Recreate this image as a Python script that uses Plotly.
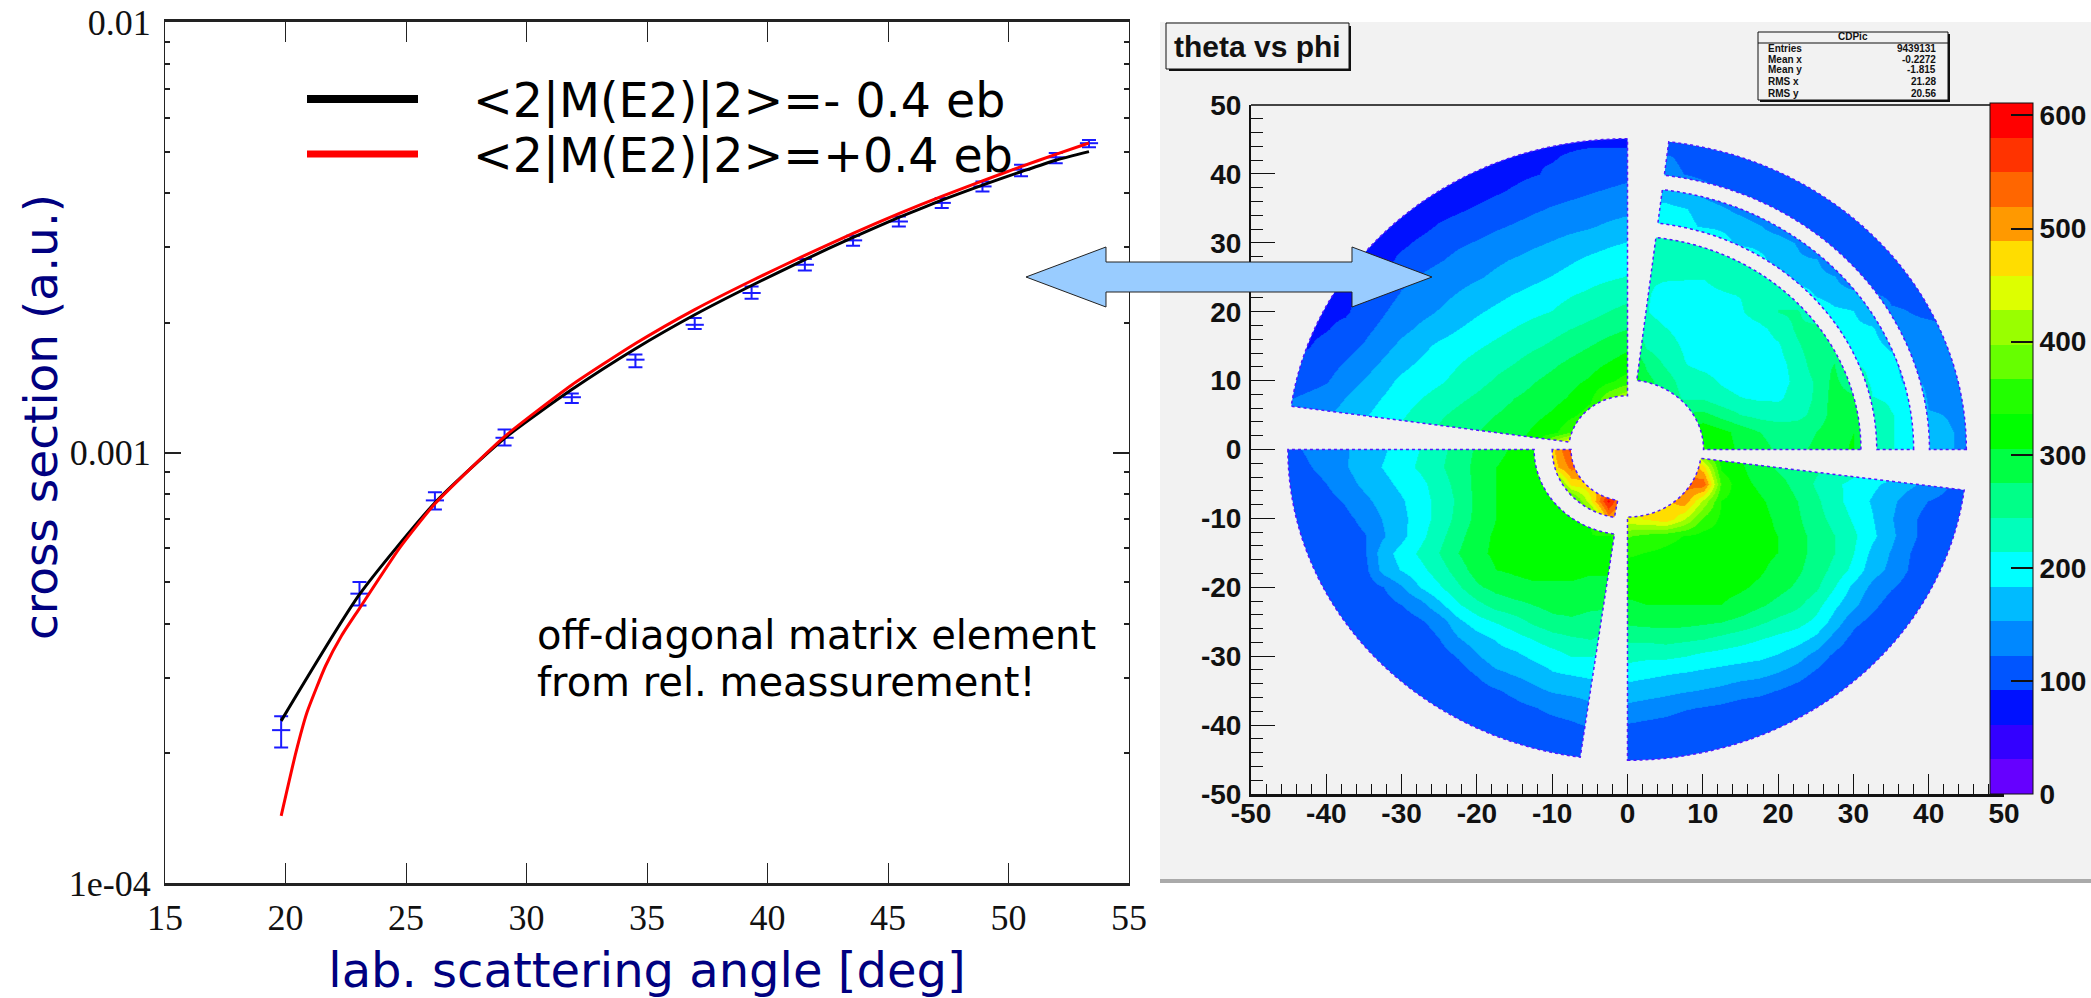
import numpy as np
import plotly.graph_objects as go

W, H = 2091, 998

# ---------- left panel data ----------
point_angle = [19.82, 23.07, 26.2, 29.09, 31.88, 34.52, 36.98, 39.34, 41.55, 43.55, 45.45, 47.23, 48.92, 50.52, 51.96, 53.34]
point_value = [2.265e-4, 4.70e-4, 7.74e-4, 1.082e-3, 1.344e-3, 1.643e-3, 1.98e-3, 2.347e-3, 2.73e-3, 3.11e-3, 3.44e-3, 3.8e-3, 4.15e-3, 4.54e-3, 4.85e-3, 5.23e-3]
point_upper = [2.44e-4, 5.0e-4, 8.09e-4, 1.131e-3, 1.371e-3, 1.688e-3, 2.054e-3, 2.431e-3, 2.815e-3, 3.189e-3, 3.535e-3, 3.9e-3, 4.26e-3, 4.66e-3, 4.96e-3, 5.32e-3]
point_lower = [2.065e-4, 4.41e-4, 7.37e-4, 1.038e-3, 1.303e-3, 1.577e-3, 1.936e-3, 2.277e-3, 2.648e-3, 3.02e-3, 3.35e-3, 3.7e-3, 4.04e-3, 4.38e-3, 4.70e-3, 5.12e-3]

black_angle = [19.82, 23.07, 26.2, 29.09, 31.88, 34.52, 36.98, 39.34, 41.55, 43.55, 45.45, 47.23, 48.92, 50.52, 51.96, 53.34]
black_value = [2.38e-4, 4.68e-4, 7.64e-4, 1.079e-3, 1.40e-3, 1.742e-3, 2.089e-3, 2.443e-3, 2.805e-3, 3.162e-3, 3.516e-3, 3.855e-3, 4.18e-3, 4.49e-3, 4.775e-3, 5.0e-3]

red_angle = [19.82, 20.43, 20.89, 21.66, 22.33, 23.07, 24.73, 26.2, 29.09, 31.88, 34.52, 36.98, 39.34, 41.55, 43.55, 45.45, 47.23, 48.92, 50.52, 51.96, 53.34]
red_value = [1.432e-4, 2.009e-4, 2.489e-4, 3.192e-4, 3.758e-4, 4.345e-4, 5.998e-4, 7.603e-4, 1.089e-3, 1.435e-3, 1.791e-3, 2.148e-3, 2.506e-3, 2.871e-3, 3.228e-3, 3.589e-3, 3.936e-3, 4.276e-3, 4.613e-3, 4.926e-3, 5.236e-3]

legend_black = "<2|M(E2)|2>=- 0.4 eb"
legend_red = "<2|M(E2)|2>=+0.4 eb"
legend_gap = "\u00a0\u00a0\u00a0\u200a"
note_lines = ["off-diagonal matrix element", "from rel. meassurement!"]
angle_ticks = [15, 20, 25, 30, 35, 40, 45, 50, 55]
cross_ticks = [1e-2, 1e-3, 1e-4]
cross_tick_text = ["0.01", "0.001", "1e-04"]

# ---------- right panel data (counts, 2.5 degree cells) ----------
hist_x = [-45, -42.5, -40, -37.5, -35, -32.5, -30, -27.5, -25, -22.5, -20, -17.5, -15, -12.5, -10, -7.5, -5, -2.5, 0,
          2.5, 5, 7.5, 10, 12.5, 15, 17.5, 20, 22.5, 25, 27.5, 30, 32.5, 35, 37.5, 40, 42.5, 45]
hist_y = [45, 42.5, 40, 37.5, 35, 32.5, 30, 27.5, 25, 22.5, 20, 17.5, 15, 12.5, 10, 7.5, 5, 2.5, 0,
          -2.5, -5, -7.5, -10, -12.5, -15, -17.5, -20, -22.5, -25, -27.5, -30, -32.5, -35, -37.5, -40, -42.5, -45]
hist_counts = [
 [75,75,75,75,75,75,75,75,75,75,75,78,82,85,85,85,85,85,85, 110,110,105,105,105,100,100,95,95,95,95,95,95,95,95,95,95,95],
 [75,75,75,75,75,75,75,75,75,75,78,82,85,90,90,95,100,100,100, 125,125,118,110,105,100,100,95,95,95,95,95,95,95,95,95,95,95],
 [75,75,75,75,75,75,75,75,75,75,78,82,85,90,95,100,105,110,115, 130,130,122,112,108,105,100,95,95,95,95,95,95,95,95,95,95,95],
 [75,75,75,75,75,75,75,75,75,78,82,88,95,103,110,115,120,125,130, 170,172,160,140,120,110,105,102,100,95,95,95,95,95,95,95,95,95],
 [75,75,75,75,75,75,75,75,80,88,95,103,110,118,125,130,135,140,145, 190,190,185,175,160,140,118,110,105,102,100,100,100,100,100,100,100,100],
 [75,75,75,75,75,75,75,82,95,103,110,118,125,133,140,145,150,158,165, 205,200,190,180,178,175,155,135,118,110,105,105,105,105,105,105,105,105],
 [78,78,78,78,78,78,85,98,110,118,125,133,140,148,155,163,170,178,185, 235,235,230,220,195,175,172,170,150,118,110,112,108,108,108,108,108,108],
 [78,78,78,78,78,80,100,110,120,130,140,148,155,163,170,180,190,198,205, 225,225,230,235,235,230,195,165,160,155,122,112,110,108,108,108,108,108],
 [78,78,78,78,80,98,115,125,135,143,150,158,165,175,185,195,205,210,215, 215,215,215,215,225,235,220,200,165,165,155,122,115,112,108,108,108,108],
 [78,78,78,85,95,110,125,135,145,155,165,175,185,195,205,213,220,228,235, 215,210,208,205,210,215,230,240,210,180,170,165,125,118,118,110,110,110],
 [78,80,85,88,105,120,135,145,155,168,180,190,200,208,215,225,235,245,255, 215,205,200,195,200,210,230,245,250,210,190,185,150,125,122,118,115,112],
 [80,85,90,100,115,130,145,158,170,183,195,205,215,225,235,245,255,265,275, 225,215,205,195,195,195,205,225,250,260,220,195,190,140,128,128,125,120],
 [85,90,100,112,125,143,160,175,190,200,210,220,230,240,250,263,275,288,300, 240,225,210,200,195,195,200,210,240,265,245,200,200,175,132,132,128,125],
 [95,100,110,125,140,158,175,188,200,213,225,235,245,258,270,283,295,308,320, 270,240,215,205,200,195,195,205,225,265,275,215,205,200,145,138,138,130],
 [105,112,120,138,155,173,190,200,210,223,235,248,260,273,285,298,310,330,350, 285,260,230,225,210,200,200,205,220,250,285,245,205,205,165,142,142,135],
 [120,128,135,153,170,185,200,213,225,238,250,263,275,285,295,310,330,390,430, 280,265,240,240,225,215,210,210,225,250,290,285,215,210,195,148,148,140],
 [130,140,150,165,180,195,210,225,240,253,265,275,285,298,310,330,350,380,400, 280,270,280,285,265,245,235,230,235,255,290,300,230,215,205,155,152,145],
 [130,145,160,175,190,205,220,235,250,263,275,285,295,310,325,365,370,380,390, 290,300,310,330,315,295,275,265,265,275,295,305,225,215,205,160,155,148],
 [115,125,135,150,165,180,195,215,235,258,280,298,310,315,480,560,520,500,480, 500,520,530,340,320,300,285,270,270,280,295,310,225,215,205,165,155,148],
 [110,120,130,150,170,185,200,220,240,260,285,305,315,315,470,530,520,500,490, 500,520,530,470,330,310,290,270,260,250,240,230,220,210,205,190,170,150],
 [105,112,122,140,160,175,190,205,230,255,285,305,320,325,330,470,480,490,500, 500,520,530,540,360,315,300,285,265,240,220,205,190,175,160,140,125,120],
 [100,105,112,125,145,165,180,200,225,250,285,305,320,325,325,330,450,590,460, 470,480,510,420,335,325,310,295,275,250,225,200,180,160,135,122,115,110],
 [98,102,108,115,130,155,175,200,225,255,285,305,320,325,330,330,330,500,450, 460,480,430,360,330,325,315,300,280,255,235,210,185,155,128,112,108,105],
 [95,98,105,110,120,150,175,205,235,265,295,310,320,325,330,330,335,330,370, 355,345,335,325,325,320,315,305,285,265,245,220,190,160,128,112,105,100],
 [95,95,100,105,118,170,195,220,245,275,300,310,320,325,325,325,325,325,340, 335,330,325,325,325,320,315,305,285,265,245,215,175,150,122,108,100,98],
 [95,95,95,100,112,165,185,205,230,260,290,305,310,315,315,315,310,310,325, 325,325,325,325,320,315,310,295,280,260,235,205,165,145,118,105,98,95],
 [95,95,95,98,105,122,150,185,210,240,270,285,295,300,300,300,295,295,315, 320,320,320,315,315,310,300,285,270,250,215,175,145,125,108,98,95,95],
 [95,95,95,95,98,108,122,140,175,210,235,255,265,275,285,285,280,280,300, 305,305,305,305,305,295,280,265,250,225,190,160,130,108,98,95,95,95],
 [95,95,95,95,95,98,105,118,135,175,200,215,230,250,265,270,265,260,280, 285,285,285,280,275,265,250,235,225,205,170,130,112,98,95,95,95,95],
 [95,95,95,95,95,95,98,105,122,150,170,185,200,215,230,240,245,235,250, 250,255,250,245,235,225,215,205,195,175,140,112,98,95,95,95,95,95],
 [95,95,95,95,95,95,95,98,108,125,150,170,175,190,200,215,215,205,225, 220,220,215,205,200,195,190,180,165,140,115,100,95,95,95,95,95,95],
 [95,95,95,95,95,95,95,95,98,108,125,145,155,165,180,185,190,185,195, 190,185,180,175,170,165,160,150,135,115,100,95,95,95,95,95,95,95],
 [95,95,95,95,95,95,95,95,95,98,108,118,130,145,155,160,165,165,170, 165,160,155,150,145,135,130,120,108,98,95,95,95,95,95,95,95,95],
 [95,95,95,95,95,95,95,95,95,95,98,105,112,120,130,135,145,145,145, 140,135,125,120,115,108,104,98,95,95,95,95,95,95,95,95,95,95],
 [95,95,95,95,95,95,95,95,95,95,95,98,102,108,112,118,125,125,120, 115,110,104,100,98,95,95,95,95,95,95,95,95,95,95,95,95,95],
 [95,95,95,95,95,95,95,95,95,95,95,95,98,100,104,108,112,108,102, 100,98,95,95,95,95,95,95,95,95,95,95,95,95,95,95,95,95],
 [95,95,95,95,95,95,95,95,95,95,95,95,95,95,98,100,102,98,95, 95,95,95,95,95,95,95,95,95,95,95,95,95,95,95,95,95,95],
]
assert all(len(r) == len(hist_x) for r in hist_counts) and len(hist_counts) == len(hist_y)

palette = ["#6600ff", "#3300ff", "#0011ff", "#0055ff", "#0088ff", "#00bbff", "#00ffff", "#00ffbb", "#00ff88", "#00ff44",
           "#00ff00", "#22ff00", "#66ff00", "#99ff00", "#ddff00", "#ffdd00", "#ff9900", "#ff6600", "#ff3300", "#ff0000"]
hist_max = 611
colorbar_ticks = [0, 100, 200, 300, 400, 500, 600]
hist_ticks = [-50, -40, -30, -20, -10, 0, 10, 20, 30, 40, 50]

stats_title = "CDPic"
stats_names = ["Entries", "Mean x", "Mean y", "RMS x", "RMS y"]
stats_values = ["9439131", "-0.2272", "-1.815", "21.28", "20.56"]
hist_title = "theta vs phi"
x_title = "lab. scattering angle [deg]"
y_title = "cross section (a.u.)"

# detector sectors: (inner radius, outer radius, start angle, end angle)
sectors = [
    (7.8, 45.1, 90, 172),
    (12.4, 45.1, 180, 262),
    (7.5, 10.0, 180, 260),
    (9.8, 45.1, 270, 352.5),
    (10.1, 31.0, 0, 83),
    (33.1, 38.0, 0, 83),
    (40.1, 45.0, 0, 83),
]


def px(x):
    return x / W


def py(y):
    return 1 - y / H


def sector_path(r1, r2, a1, a2):
    a = np.radians(np.linspace(a1, a2, 60))
    outer = [(r2 * np.cos(t), r2 * np.sin(t)) for t in a]
    inner = [(r1 * np.cos(t), r1 * np.sin(t)) for t in a[::-1]]
    pts = outer + inner
    return "M" + " L".join(f"{x:.3f},{y:.3f}" for x, y in pts) + " Z"


sector_paths = " ".join(sector_path(*s) for s in sectors)
M = 46.5
mask_path = f"M{-M},{-M} L{M},{-M} L{M},{M} L{-M},{M} Z " + sector_paths

n = len(palette)
colorscale = []
for i, c in enumerate(palette):
    colorscale += [[i / n, c], [(i + 1) / n, c]]

fig = go.Figure()

fig.add_trace(go.Heatmap(
    x=hist_x, y=hist_y, z=hist_counts, xaxis="x2", yaxis="y2", zmin=0, zmax=hist_max,
    colorscale=colorscale, zsmooth="best", hoverinfo="skip", showlegend=False,
    colorbar=dict(
        x=px(1990), xanchor="left", y=py(794), yanchor="bottom", len=691 / H, lenmode="fraction",
        thickness=43, thicknessmode="pixels", xpad=0, ypad=0, outlinewidth=1, outlinecolor="#111",
        tickmode="array", tickvals=colorbar_ticks, ticktext=[str(v) for v in colorbar_ticks],
        ticks="inside", ticklen=22, tickwidth=2, tickcolor="#111",
        tickfont=dict(family="Liberation Sans", size=28, color="#111", weight="bold"),
    ),
))

fig.add_trace(go.Scatter(
    x=point_angle, y=point_value, mode="markers", showlegend=False, hoverinfo="skip",
    marker=dict(symbol="line-ew", size=13, color="#1a1aff", line=dict(width=2, color="#1a1aff")),
    error_y=dict(type="data", symmetric=False,
                 array=[u - v for u, v in zip(point_upper, point_value)],
                 arrayminus=[v - l for v, l in zip(point_value, point_lower)],
                 color="#1a1aff", thickness=2, width=7),
))
fig.add_trace(go.Scatter(x=black_angle, y=black_value, mode="lines", showlegend=False, hoverinfo="skip",
                         line=dict(color="black", width=3, shape="spline", smoothing=0.6)))
fig.add_trace(go.Scatter(x=red_angle, y=red_value, mode="lines", showlegend=False, hoverinfo="skip",
                         line=dict(color="#ff0000", width=3, shape="spline", smoothing=0.5)))
fig.add_trace(go.Scatter(x=[None], y=[None], mode="lines", name=legend_gap + legend_black, legend="legend",
                         line=dict(color="black", width=8)))
fig.add_trace(go.Scatter(x=[None], y=[None], mode="lines", name=legend_gap + legend_red, legend="legend2",
                         line=dict(color="#ff0000", width=7)))

shapes = [
    dict(type="rect", xref="paper", yref="paper", x0=px(1160), x1=1, y0=py(879), y1=py(22),
         fillcolor="#f2f2f2", line_width=0, layer="below"),
    dict(type="rect", xref="paper", yref="paper", x0=px(1160), x1=1, y0=py(883), y1=py(879),
         fillcolor="#aaaaaa", line_width=0, layer="below"),
    dict(type="path", xref="x2", yref="y2", path=mask_path, fillcolor="#f2f2f2", fillrule="evenodd",
         line_width=0, layer="above"),
    dict(type="path", xref="x2", yref="y2", path=sector_paths, fillcolor="rgba(0,0,0,0)",
         line=dict(color="#5018ff", width=1.5, dash="dot"), layer="above"),
    # top frame line of the histogram
    dict(type="line", xref="paper", yref="paper", x0=px(1251), x1=px(1990), y0=py(105), y1=py(105),
         line=dict(color="#444", width=2)),
    # title box
    dict(type="rect", xref="paper", yref="paper", x0=px(1169), x1=px(1351), y0=py(71), y1=py(26),
         fillcolor="#111", line_width=0),
    dict(type="rect", xref="paper", yref="paper", x0=px(1166), x1=px(1349), y0=py(69), y1=py(23),
         fillcolor="#f2f2f2", line=dict(color="#111", width=1)),
    # stats box
    dict(type="rect", xref="paper", yref="paper", x0=px(1760), x1=px(1950), y0=py(102), y1=py(34),
         fillcolor="#111", line_width=0),
    dict(type="rect", xref="paper", yref="paper", x0=px(1758), x1=px(1948), y0=py(100), y1=py(32),
         fillcolor="#f2f2f2", line=dict(color="#111", width=1)),
    dict(type="line", xref="paper", yref="paper", x0=px(1758), x1=px(1948), y0=py(43), y1=py(43),
         line=dict(color="#111", width=1)),
]
# double-headed arrow
arrow = [(1026, 277), (1106, 247), (1106, 262), (1352, 262), (1352, 247), (1432, 277),
         (1352, 307), (1352, 292), (1106, 292), (1106, 307)]
shapes.append(dict(type="path", xref="paper", yref="paper",
                   path="M" + " L".join(f"{px(x):.5f},{py(y):.5f}" for x, y in arrow) + " Z",
                   fillcolor="#99ccff", line=dict(color="#222", width=1)))

ann = [
    dict(text=y_title, x=px(40), y=py(417), xanchor="center", yanchor="middle", textangle=-90,
         font=dict(family="DejaVu Sans", size=47, color="#000080")),
    dict(text=note_lines[0], x=px(536), y=py(635), xanchor="left", yanchor="middle",
         font=dict(family="DejaVu Sans", size=40, color="black")),
    dict(text=note_lines[1], x=px(536), y=py(682), xanchor="left", yanchor="middle",
         font=dict(family="DejaVu Sans", size=40, color="black")),
    dict(text=hist_title, x=px(1257), y=py(46), xanchor="center", yanchor="middle",
         font=dict(family="Liberation Sans", size=30, color="#111", weight="bold")),
    dict(text=stats_title, x=px(1853), y=py(37), xanchor="center", yanchor="middle",
         font=dict(family="Liberation Sans", size=10, color="#111", weight="bold")),
]
for name, value, yy in zip(stats_names, stats_values, [48, 59, 70, 82, 93]):
    ann.append(dict(text=name, x=px(1767), y=py(yy), xanchor="left", yanchor="middle",
                    font=dict(family="Liberation Sans", size=10, color="#111", weight="bold")))
    ann.append(dict(text=value, x=px(1937), y=py(yy), xanchor="right", yanchor="middle",
                    font=dict(family="Liberation Sans", size=10, color="#111", weight="bold")))
for a in ann:
    a.update(xref="paper", yref="paper", showarrow=False, borderpad=0)

legend_common = dict(bgcolor="rgba(0,0,0,0)", borderwidth=0, xanchor="left", yanchor="middle",
                     itemwidth=111, font=dict(family="DejaVu Sans", size=47.5, color="black"),
                     itemclick=False, itemdoubleclick=False)

navy = "#000080"
serif = dict(family="Liberation Serif", size=36, color="#111")
bold = dict(family="Liberation Sans", size=28, color="#111", weight="bold")

fig.update_layout(
    width=W, height=H, margin=dict(l=0, r=0, t=0, b=0, autoexpand=False),
    paper_bgcolor="white", plot_bgcolor="white", showlegend=True,
    shapes=shapes, annotations=ann,
    legend=dict(x=px(302), y=py(99), **legend_common),
    legend2=dict(x=px(302), y=py(154), **legend_common),
    xaxis=dict(domain=[px(165), px(1129)], range=[15, 55], anchor="y", tickmode="array",
               tickvals=angle_ticks, ticktext=[str(v) for v in angle_ticks],
               ticks="inside", ticklen=20, tickwidth=1, tickcolor="#222", showgrid=False, zeroline=False,
               showline=True, linecolor="#222", linewidth=3, mirror="ticks",
               tickfont=serif, ticklabelstandoff=1,
               title=dict(text=x_title, font=dict(family="DejaVu Sans", size=48, color=navy), standoff=18)),
    yaxis=dict(domain=[py(883), py(22)], type="log", range=[-4, -2], anchor="x", tickmode="array",
               tickvals=cross_ticks, ticktext=cross_tick_text,
               ticks="inside", ticklen=16, tickwidth=2, tickcolor="#222", showgrid=False, zeroline=False,
               showline=True, linecolor="#222", linewidth=1, mirror="ticks",
               minor=dict(ticks="inside", ticklen=5, tickwidth=2, tickcolor="#222", dtick="D1", showgrid=False),
               tickfont=serif, ticklabelstandoff=6),
    xaxis2=dict(domain=[px(1251), px(2004)], range=[-50, 50], anchor="y2", tickmode="array",
                tickvals=hist_ticks, ticktext=[str(v) for v in hist_ticks],
                ticks="inside", ticklen=20, tickwidth=1, tickcolor="#111", showgrid=False, zeroline=False,
                showline=True, linecolor="#111", linewidth=3,
                minor=dict(ticks="inside", ticklen=10, tickwidth=1, tickcolor="#111", dtick=2, showgrid=False),
                tickfont=bold, ticklabelstandoff=-8),
    yaxis2=dict(domain=[py(794), py(105)], range=[-50, 50], anchor="x2", tickmode="array",
                tickvals=hist_ticks, ticktext=[str(v) for v in hist_ticks],
                ticks="inside", ticklen=24, tickwidth=1, tickcolor="#111", showgrid=False, zeroline=False,
                showline=True, linecolor="#111", linewidth=2,
                minor=dict(ticks="inside", ticklen=12, tickwidth=1, tickcolor="#111", dtick=2, showgrid=False),
                tickfont=bold, ticklabelstandoff=2),
)
fig.write_html("out.html", config={"displayModeBar": False}, post_script="document.body.style.margin='0';")
